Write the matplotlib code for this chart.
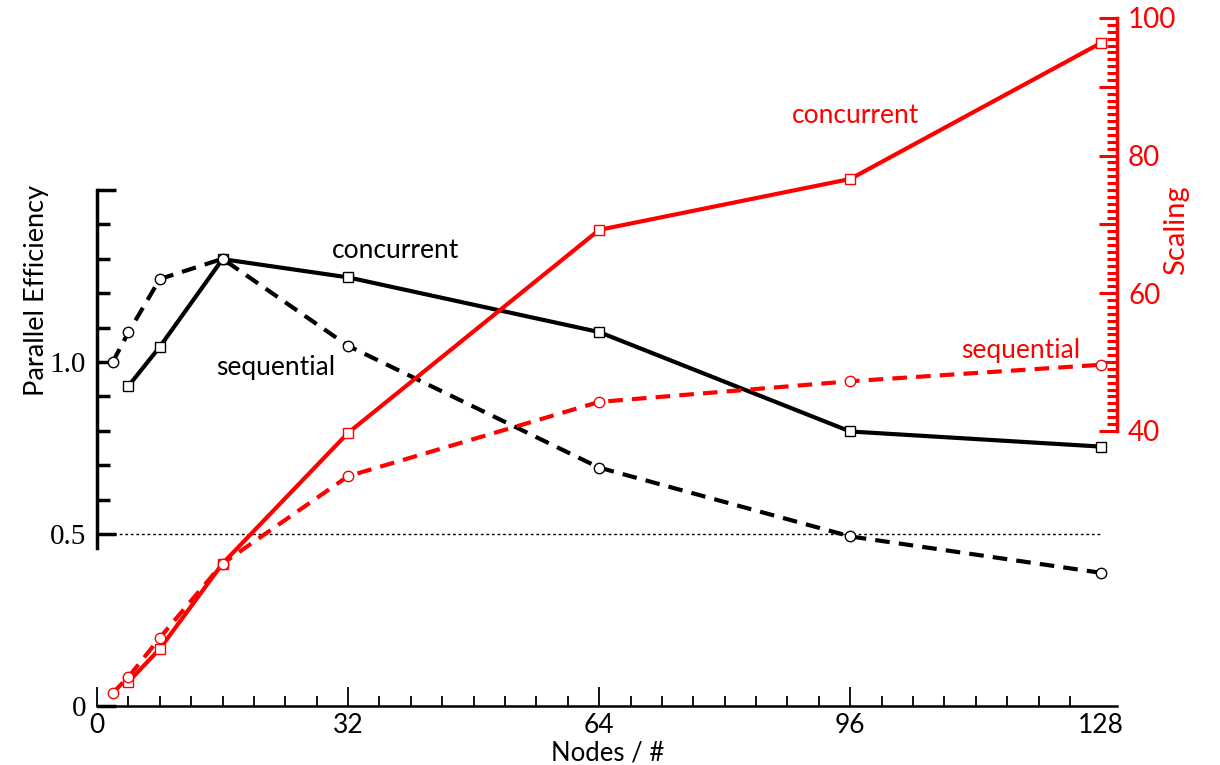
import matplotlib
matplotlib.use("Agg")
import matplotlib.pyplot as plt
import numpy as np
from matplotlib.ticker import FixedLocator

# ── data ──────────────────────────────────────────────────────────────────────
nodes_conc = [4, 8, 16, 32, 64, 96, 128]
nodes_seq = [2, 4, 8, 16, 32, 64, 96, 128]

eff_conc = [0.930, 1.044, 1.299, 1.246, 1.087, 0.798, 0.754]
eff_seq = [1.000, 1.086, 1.241, 1.300, 1.047, 0.693, 0.493, 0.387]

scal_conc = [3.5, 8.3, 20.7, 39.7, 69.2, 76.6, 96.4]
scal_seq = [1.9, 4.2, 9.9, 20.7, 33.4, 44.2, 47.2, 49.6]

x_ticks = [0, 32, 64, 96, 128]
eff_ticks = [0, 0.5, 1.0, 1.5]
eff_labels = ["0", "0.5", "1.0", ""]
scal_ticks = [40, 50, 60, 70, 80, 90, 100]
scal_labels = ["40", "", "60", "", "80", "", "100"]

SANS = "Lato"
SERIF = "Liberation Serif"
RED = "#ff0000"

fig = plt.figure(figsize=(12.2, 7.65), dpi=100)
ax = fig.add_axes([97 / 1220, 59 / 765, 1020 / 1220, 688 / 765])
ax2 = ax.twinx()

dash = (0, (3.5, 2.2))

# black: parallel efficiency
ax.plot(nodes_conc, eff_conc, "-", color="black", lw=3, marker="s", ms=7,
        mfc="white", mec="black", mew=1, zorder=3)
ax.plot(nodes_seq, eff_seq, linestyle=dash, color="black", lw=3, marker="o", ms=7.5,
        mfc="white", mec="black", mew=1, zorder=3)
ax.hlines(0.5, 0, 128, colors="black", linestyles=(0, (2, 2)), lw=1, zorder=1)

# red: scaling
ax2.plot(nodes_conc, scal_conc, "-", color=RED, lw=3, marker="s", ms=7,
         mfc="white", mec=RED, mew=1, zorder=3)
ax2.plot(nodes_seq, scal_seq, linestyle=dash, color=RED, lw=3, marker="o", ms=7.5,
         mfc="white", mec=RED, mew=1, zorder=3)

ax.set_xlim(0, 130)
ax.set_ylim(0, 2.0)
ax2.set_ylim(0, 100)

# x axis
ax.set_xticks(x_ticks)
ax.set_xticklabels([str(v) for v in x_ticks], fontfamily=SANS, fontsize=19)
ax.xaxis.set_minor_locator(FixedLocator([v for v in range(4, 128, 4) if v % 32]))
ax.tick_params(axis="x", which="major", direction="in", length=14, width=1.3, pad=5)
ax.tick_params(axis="x", which="minor", direction="in", length=7, width=1.3)
ax.xaxis.get_major_ticks()[-1].tick1line.set_visible(False)
ax.set_xlabel("Nodes / #", fontfamily=SANS, fontsize=18.5)
ax.xaxis.set_label_coords(0.501, -0.05)
ax.xaxis.label.set_va("top")

# left axis
ax.set_yticks(eff_ticks)
ax.set_yticklabels(eff_labels, fontfamily=SERIF, fontsize=21)
ax.yaxis.set_minor_locator(FixedLocator([0.6, 0.7, 0.8, 0.9, 1.1, 1.2, 1.3, 1.4]))
ax.tick_params(axis="y", which="major", direction="in", length=14, width=2.5, pad=8)
ax.tick_params(axis="y", which="minor", direction="in", length=9, width=2.5)
ax.set_ylabel("Parallel Efficiency", fontfamily=SANS, fontsize=19.5)
ax.yaxis.set_label_coords(-0.047, 0.604)

ax.spines["top"].set_visible(False)
ax.spines["right"].set_visible(False)
ax.spines["left"].set_bounds(0.46, 1.5)
ax.spines["left"].set_linewidth(2.5)
ax.spines["bottom"].set_linewidth(1.8)

# right axis
for s in ["top", "left", "bottom"]:
    ax2.spines[s].set_visible(False)
ax2.spines["right"].set_bounds(40, 100)
ax2.spines["right"].set_color(RED)
ax2.spines["right"].set_linewidth(2.5)
ax2.set_yticks(scal_ticks)
ax2.set_yticklabels(scal_labels, fontfamily=SANS, fontsize=20, color=RED)
ax2.yaxis.set_minor_locator(FixedLocator([v for v in range(41, 100) if v % 10]))
ax2.tick_params(axis="y", which="major", direction="in", length=13, width=2.2,
                color=RED, pad=8)
ax2.tick_params(axis="y", which="minor", direction="in", length=7, width=2.2, color=RED)
ax2.set_ylabel("Scaling", fontfamily=SANS, fontsize=21, color=RED, rotation=90)
ax2.yaxis.set_label_coords(1.045, 0.692)

# curve labels
ax.text(38.1, 1.323, "concurrent", fontfamily=SANS, fontsize=19, color="black",
        ha="center", va="center")
ax.text(22.8, 0.985, "sequential", fontfamily=SANS, fontsize=19, color="black",
        ha="center", va="center")
ax2.text(96.7, 85.8, "concurrent", fontfamily=SANS, fontsize=19, color=RED,
         ha="center", va="center")
ax2.text(117.7, 51.6, "sequential", fontfamily=SANS, fontsize=19, color=RED,
         ha="center", va="center")

fig.savefig("out.png", dpi=100)
